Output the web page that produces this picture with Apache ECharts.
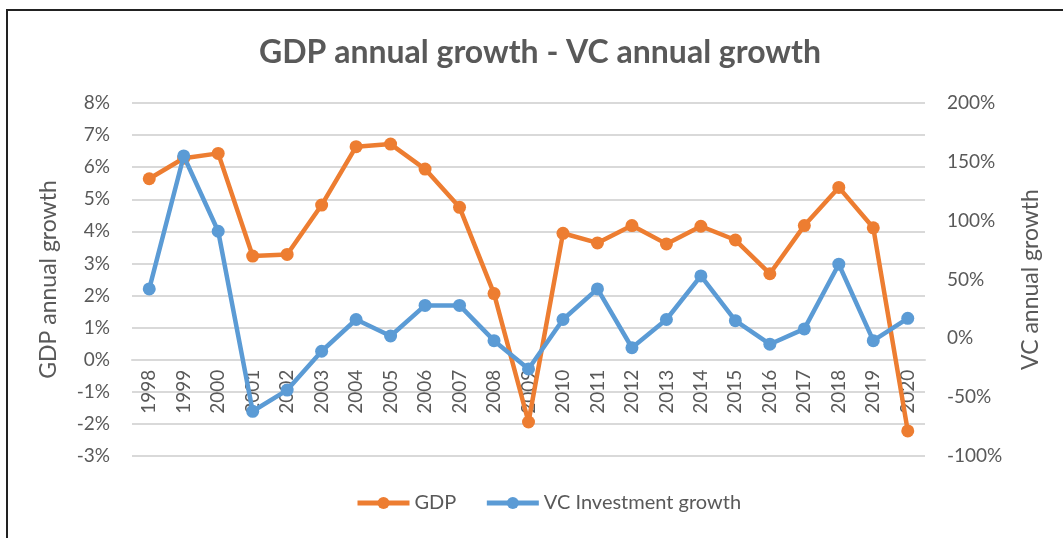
<!DOCTYPE html>
<html>
<head>
<meta charset="utf-8">
<script src="https://cdn.jsdelivr.net/npm/echarts@6/dist/echarts.min.js"></script>
<style>
	html, body { margin: 0; padding: 0; background: #fff; }
	#chart { position: absolute; left: 0; top: 0; width: 1063px; height: 538px; }
	#frame { position: absolute; left: 6px; top: 9px; width: 1100px; height: 600px;
		border-left: 2px solid #222; border-top: 2px solid #222; pointer-events: none; }
</style>
</head>
<body>
<div id="chart"></div>
<div id="frame"></div>
<script>
// years on the x axis
var years = ['1998', '1999', '2000', '2001', '2002', '2003', '2004', '2005', '2006', '2007', '2008',
		'2009', '2010', '2011', '2012', '2013', '2014', '2015', '2016', '2017', '2018', '2019', '2020'];

// GDP annual growth, in % (left axis)
var gdpGrowth = [5.64, 6.28, 6.43, 3.23, 3.28, 4.82, 6.64, 6.72, 5.94, 4.75, 2.06,
		-1.94, 3.94, 3.64, 4.18, 3.61, 4.16, 3.73, 2.68, 4.18, 5.37, 4.11, -2.22];

// VC investment growth, in % (right axis)
var vcGrowth = [42, 155, 91, -62, -44, -11, 16, 2, 28, 28, -2,
		-26, 16, 42, -8, 16, 53, 15, -5, 8, 63, -2, 17];

var font = 'Lato';
var textColor = '#595959';

// left axis range; the year labels sit on its 0% line
var gdpMin = -3, gdpMax = 8;
var gridTop = 103, gridBottom = 82;
var plotHeight = 538 - gridTop - gridBottom;
// lift the category axis from the grid bottom up to the 0% line
var zeroLift = plotHeight * (0 - gdpMin) / (gdpMax - gdpMin);

var chart = echarts.init(document.getElementById('chart'));

var option = {
	animation : false,
	color : ['#ED7D31', '#5B9BD5'],
	title : {
		text : 'GDP annual growth - VC annual growth',
		left : 254,
		top : 32,
		textStyle : {
			fontFamily : font,
			fontSize : 32,
			fontWeight : 'bold',
			color : textColor
		}
	},
	legend : {
		bottom : 20,
		left : 350,
		itemWidth : 52,
		itemHeight : 15,
		itemGap : 28,
		lineStyle : { width : 5 },
		textStyle : {
			fontFamily : font,
			fontSize : 20,
			color : textColor
		},
		data : ['GDP', 'VC Investment growth']
	},
	grid : {
		left : 132,
		right : 138,
		top : gridTop,
		bottom : gridBottom,
		containLabel : false
	},
	xAxis : {
		type : 'category',
		data : years,
		boundaryGap : true,
		position : 'bottom',
		offset : -zeroLift,
		axisLine : {
			onZero : false,
			lineStyle : { color : '#d9d9d9', width : 2 }
		},
		axisTick : { show : false },
		axisLabel : {
			rotate : 90,
			interval : 0,
			margin : 10,
			fontFamily : font,
			fontSize : 19,
			color : textColor
		}
	},
	yAxis : [{
		type : 'value',
		min : gdpMin,
		max : gdpMax,
		interval : 1,
		name : 'GDP annual growth',
		nameLocation : 'middle',
		nameGap : 72,
		nameTextStyle : {
			fontFamily : font,
			fontSize : 23,
			color : textColor
		},
		axisLine : { show : false },
		axisTick : { show : false },
		splitLine : { lineStyle : { color : '#d9d9d9', width : 2 } },
		axisLabel : {
			formatter : '{value}%',
			margin : 22,
			fontFamily : font,
			fontSize : 19,
			color : textColor
		}
	}, {
		type : 'value',
		min : -100,
		max : 200,
		interval : 50,
		position : 'right',
		name : 'VC annual growth',
		nameLocation : 'middle',
		nameRotate : 90,
		nameGap : 94,
		nameTextStyle : {
			fontFamily : font,
			fontSize : 23,
			color : textColor
		},
		axisLine : { show : false },
		axisTick : { show : false },
		splitLine : { show : false },
		axisLabel : {
			formatter : '{value}%',
			margin : 22,
			fontFamily : font,
			fontSize : 19,
			color : textColor
		}
	}],
	series : [{
		name : 'GDP',
		type : 'line',
		yAxisIndex : 0,
		data : gdpGrowth,
		symbol : 'circle',
		symbolSize : 13,
		lineStyle : { width : 4.5 },
		z : 2
	}, {
		name : 'VC Investment growth',
		type : 'line',
		yAxisIndex : 1,
		data : vcGrowth,
		symbol : 'circle',
		symbolSize : 13,
		lineStyle : { width : 4.5 },
		z : 3
	}]
};

chart.setOption(option);
</script>
</body>
</html>
